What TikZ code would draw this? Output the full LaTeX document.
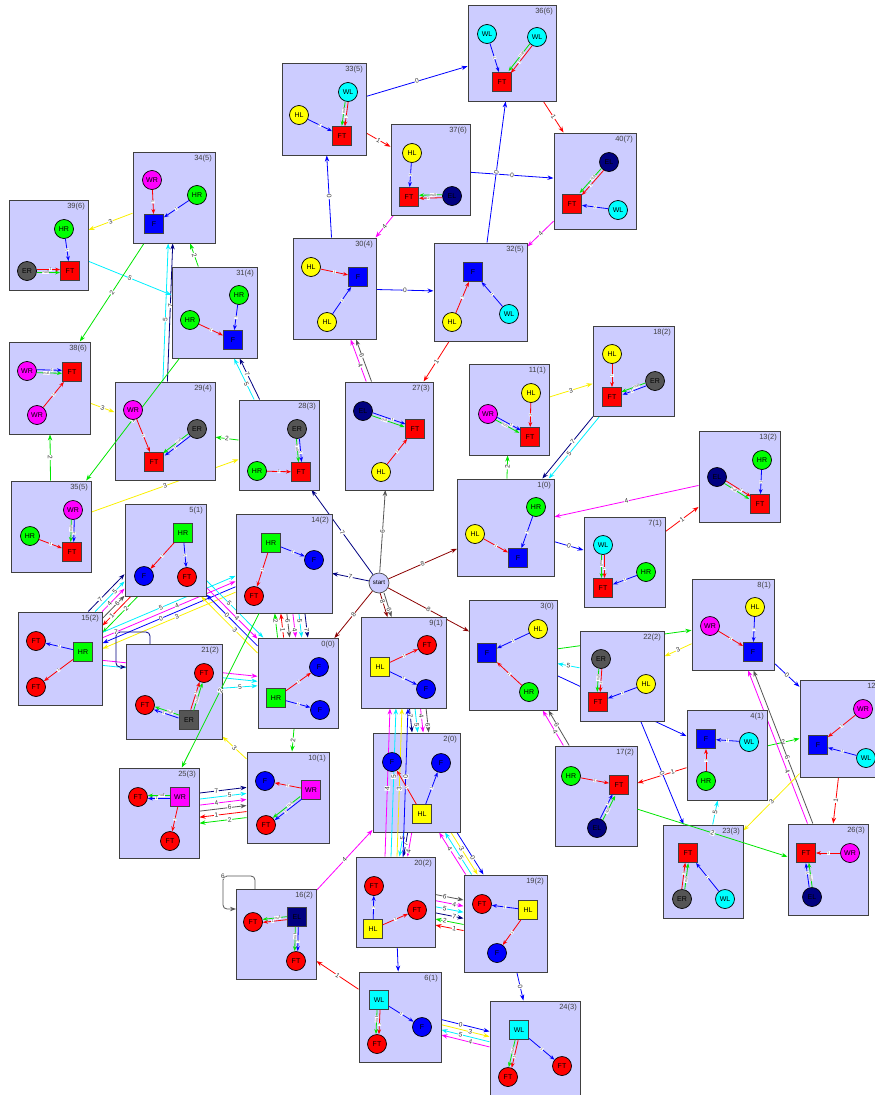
\documentclass[tikz,border=0pt]{standalone}
\usepackage{fontspec}
\setmainfont{Liberation Sans}
\usetikzlibrary{arrows.meta,calc}
\pgfdeclarelayer{bg}
\pgfsetlayers{bg,main}
\definecolor{lav}{RGB}{204,204,255}
\definecolor{c0}{RGB}{0,0,255}
\definecolor{c1}{RGB}{255,0,0}
\definecolor{c2}{RGB}{0,230,0}
\definecolor{c3}{RGB}{250,240,0}
\definecolor{c4}{RGB}{255,0,255}
\definecolor{c5}{RGB}{0,240,255}
\definecolor{c6}{RGB}{85,85,85}
\definecolor{c7}{RGB}{0,0,128}
\definecolor{c8}{RGB}{139,0,0}
\definecolor{nred}{RGB}{255,0,0}
\definecolor{nblue}{RGB}{0,0,255}
\definecolor{nyel}{RGB}{255,255,0}
\definecolor{ngreen}{RGB}{0,255,0}
\definecolor{ncyan}{RGB}{0,255,255}
\definecolor{nmag}{RGB}{255,0,255}
\definecolor{ngray}{RGB}{85,85,85}
\definecolor{nnavy}{RGB}{0,0,128}
\newcommand\ilA{1}
\newcommand\ilG{null}
\tikzset{lpos/.code={\def\BLpos{#1}}}
% box: name x1 y1 x2 y2 title  (pixel coordinates, y downwards)
\newcommand\bx[6]{%
  \edef\BXx{\fpeval{(#2+#4)/2}}\edef\BXy{\fpeval{(#3+#5)/2}}%
  \node[box, minimum width=\fpeval{#4-#2}pt, minimum height=\fpeval{#5-#3}pt] (#1) at (\BXx,\BXy) {};
  \node[ttl] (#1t) at ([shift={(-2.5,2.5)}]#1.north east) {#6};
  \expandafter\xdef\csname cx@#1\endcsname{\BXx}%
  \expandafter\xdef\csname cy@#1\endcsname{\BXy}%
  \expandafter\xdef\csname hw@#1\endcsname{\fpeval{(#4-#2)/2+0.5}}%
  \expandafter\xdef\csname hh@#1\endcsname{\fpeval{(#5-#3)/2+0.5}}%
}
% connector between boxes with a parallel offset
\newcommand\bline[5]{%
  \edef\BAx{\csname cx@#1\endcsname}\edef\BAy{\csname cy@#1\endcsname}%
  \edef\BAw{\csname hw@#1\endcsname}\edef\BAh{\csname hh@#1\endcsname}%
  \edef\BBx{\csname cx@#2\endcsname}\edef\BBy{\csname cy@#2\endcsname}%
  \edef\BBw{\csname hw@#2\endcsname}\edef\BBh{\csname hh@#2\endcsname}%
  \edef\BLdx{\fpeval{\BBx-(\BAx)}}\edef\BLdy{\fpeval{\BBy-(\BAy)}}%
  \edef\BLl{\fpeval{sqrt((\BLdx)^2+(\BLdy)^2)}}%
  \edef\BLux{\fpeval{(\BLdx)/\BLl+1e-7}}\edef\BLuy{\fpeval{(\BLdy)/\BLl+1e-7}}%
  \edef\BLox{\fpeval{-(#3)*(\BLuy)}}\edef\BLoy{\fpeval{(#3)*(\BLux)}}%
  \edef\BLta{\fpeval{min((((\BLux)>0?\BAw:-\BAw)-(\BLox))/(\BLux),(((\BLuy)>0?\BAh:-\BAh)-(\BLoy))/(\BLuy))}}%
  \edef\BLtb{\fpeval{min((((\BLux)>0?\BBw:-\BBw)+(\BLox))/(\BLux),(((\BLuy)>0?\BBh:-\BBh)+(\BLoy))/(\BLuy))}}%
  \edef\BLsx{\fpeval{round(\BLox+(\BLta)*(\BLux),2)}}\edef\BLsy{\fpeval{round(\BLoy+(\BLta)*(\BLuy),2)}}%
  \edef\BLex{\fpeval{round(\BLox-(\BLtb)*(\BLux),2)}}\edef\BLey{\fpeval{round(\BLoy-(\BLtb)*(\BLuy),2)}}%
  \def\BLlab{#5}\def\BLpos{0.5}%
  \ifx\BLlab\empty
    \draw[#4] ([shift={(\BLsx,\BLsy)}]#1.center) -- ([shift={(\BLex,\BLey)}]#2.center);
  \else
    \draw[#4] ([shift={(\BLsx,\BLsy)}]#1.center) -- node[elab,pos=\BLpos]{#5} ([shift={(\BLex,\BLey)}]#2.center);
  \fi
}
\newcommand\nd[4]{\node[#1,n#4] (#2) at (#3) {#4};}
\newcommand\ia[3]{\draw[iarr,#3] (#1) -- node[ilab]{\ilA} (#2);}
\newcommand\ip[3]{%
  \path let \p1=(#1),\p2=(#2) in \pgfextra{\pgfmathsetmacro\IPa{atan2(\y2-\y1,\x2-\x1)}\global\let\IPang\IPa};
  \draw[iarr,#3,transform canvas={shift={(\IPang+90:1.5pt)}}] (#1) -- node[ilab,pos=0.6]{\ilA} (#2);
  \draw[iarr,c2,transform canvas={shift={(\IPang-90:1.5pt)}}] (#1) -- node[ilab,pos=0.38]{\ilG} (#2);}
\begin{document}
\begin{tikzpicture}[x=1pt,y=-1pt,
  box/.style={draw=black!75, line width=1pt, fill=lav, inner sep=0pt, outer sep=0pt},
  ttl/.style={anchor=north east, inner sep=0.5pt, font=\fontsize{7.5}{8}\selectfont, text=black!75},
  cir/.style={circle, draw=black, line width=0.7pt, minimum size=19pt, inner sep=0pt, font=\fontsize{7}{7}\selectfont},
  sq/.style={rectangle, draw=black!75, line width=0.9pt, minimum size=19pt, inner sep=0pt, font=\fontsize{7}{7}\selectfont},
  nFT/.style={fill=nred}, nF/.style={fill=nblue}, nHL/.style={fill=nyel}, nHR/.style={fill=ngreen},
  nWL/.style={fill=ncyan}, nWR/.style={fill=nmag}, nER/.style={fill=ngray}, nEL/.style={fill=nnavy},
  eg/.style={line width=0.8pt, -{Stealth[length=6pt,width=4.4pt]}},
  rev/.style={{Stealth[length=6pt,width=4.4pt]}-},
  iarr/.style={line width=0.8pt, -{Stealth[length=5pt,width=3.8pt]}},
  elab0/.style={fill=white, inner sep=0.5pt, font=\fontsize{6.5}{6.5}\selectfont, text=black!80},
  elab/.style={elab0, sloped},
  ilab/.style={fill=white, inner sep=0.4pt, font=\fontsize{3.8}{3.8}\selectfont, text=black!70, sloped},
  startn/.style={circle, draw=black!70, line width=0.7pt, fill=lav, minimum size=20pt, inner sep=0pt, font=\fontsize{6.2}{6.5}\selectfont}]
\useasboundingbox (0,0) rectangle (875,1095);
\clip (0,0) rectangle (875,1095);
% ---------------- boxes ----------------
\bx{b36}{468}{5}{556}{101}{36(6)}
\bx{b33}{282}{63}{366}{155}{33(5)}
\bx{b37}{391}{124}{470}{215}{37(6)}
\bx{b40}{554}{133}{636}{229}{40(7)}
\bx{b34}{133}{152}{215}{243}{34(5)}
\bx{b39}{9}{200}{88}{290}{39(6)}
\bx{b31}{172}{267}{257}{358}{31(4)}
\bx{b30}{293}{238}{376}{339}{30(4)}
\bx{b32}{434}{243}{527}{341}{32(5)}
\bx{b38}{9}{342}{90}{434}{38(6)}
\bx{b29}{115}{382}{215}{480}{29(4)}
\bx{b28}{239}{400}{319}{490}{28(3)}
\bx{b27}{345}{382}{433}{490}{27(3)}
\bx{b11}{469}{364}{549}{455}{11(1)}
\bx{b18}{593}{326}{674}{416}{18(2)}
\bx{b13}{699}{431}{780}{522}{13(2)}
\bx{b35}{11}{481}{91}{572}{35(5)}
\bx{b5}{125}{504}{206}{596}{5(1)}
\bx{b14}{236}{514}{332}{613}{14(2)}
\bx{b1}{457}{479}{554}{576}{1(0)}
\bx{b7}{584}{517}{665}{607}{7(1)}
\bx{b15}{18}{612}{102}{705}{15(2)}
\bx{b21}{126}{644}{222}{739}{21(2)}
\bx{b0}{258}{638}{338}{728}{0(0)}
\bx{b9}{361}{617}{446}{708}{9(1)}
\bx{b3}{469}{600}{557}{710}{3(0)}
\bx{b22}{580}{631}{664}{721}{22(2)}
\bx{b8}{692}{579}{774}{670}{8(1)}
\bx{b12}{800}{680}{888}{777}{12(2)}
\bx{b4}{687}{710}{767}{800}{4(1)}
\bx{b17}{555}{746}{637}{846}{17(2)}
\bx{b23}{663}{825}{743}{918}{23(3)}
\bx{b26}{788}{824}{868}{915}{26(3)}
\bx{b10}{247}{752}{329}{843}{10(1)}
\bx{b25}{119}{768}{199}{858}{25(3)}
\bx{b2}{373}{733}{460}{832}{2(0)}
\bx{b20}{356}{857}{435}{947}{20(2)}
\bx{b19}{464}{875}{547}{972}{19(2)}
\bx{b16}{236}{889}{316}{979}{16(2)}
\bx{b6}{359}{972}{441}{1062}{6(1)}
\bx{b24}{490}{1001}{580}{1100}{24(3)}
\node[startn] (st) at (379,583) {start};
% ---------------- connectors behind boxes ----------------
\begin{pgfonlayer}{bg}
\draw[eg,c7] (st) -- node[elab]{7} (b14);
\draw[eg,c7] (st) -- node[elab]{7} (b28);
\draw[eg,c6] (st) -- node[elab]{6} (b27);
\draw[eg,c8] (st) -- node[elab]{8} (b1);
\draw[eg,c8] (st) -- node[elab]{8} (b3);
\draw[eg,c8] (st) -- node[elab]{8} (b0);
\draw[eg,c8,transform canvas={xshift=-2pt}] (st) -- node[elab,pos=0.35]{8} (b9);
\draw[eg,c6,transform canvas={xshift=2pt}] (st) -- node[elab,pos=0.68]{6} (b9);
% top
\bline{b33}{b36}{0}{eg,c0}{0}
\bline{b33}{b37}{0}{eg,c1}{1}
\bline{b30}{b33}{0}{eg,c0}{0}
\bline{b37}{b40}{0}{eg,c0}{0}
\bline{b32}{b36}{0}{eg,c0}{0}
\bline{b36}{b40}{0}{eg,c1}{1}
\bline{b37}{b30}{0}{eg,c4}{4}
\bline{b40}{b32}{0}{eg,c4}{4}
\bline{b30}{b32}{0}{eg,c0}{0}
\bline{b32}{b27}{0}{eg,c1}{1}
\bline{b27}{b30}{-2.5}{eg,c4,lpos=0.38}{4}
\bline{b27}{b30}{2.5}{eg,c6,lpos=0.62}{6}
\bline{b11}{b18}{0}{eg,c3}{3}
\bline{b18}{b1}{2.5}{eg,c7,lpos=0.4}{7}
\bline{b18}{b1}{-2.5}{eg,c5,lpos=0.6}{5}
\bline{b1}{b11}{0}{eg,c2}{2}
\bline{b13}{b1}{0}{eg,c4}{4}
\bline{b7}{b13}{0}{eg,c1}{1}
\bline{b1}{b7}{0}{eg,c0}{0}
% left
\bline{b34}{b39}{0}{eg,c3}{3}
\bline{b31}{b34}{0}{eg,c2}{2}
\bline{b29}{b34}{-4}{eg,c5,lpos=0.45}{5}
\bline{b29}{b34}{0.5}{eg,c7,lpos=0.55}{7}
\bline{b39}{b31}{0}{eg,c5}{5}
\bline{b34}{b38}{0}{eg,c2}{2}
\bline{b38}{b29}{0}{eg,c3}{3}
\bline{b35}{b38}{0}{eg,c2}{2}
\bline{b28}{b29}{0}{eg,c2}{2}
\bline{b28}{b31}{-2.5}{eg,c5,lpos=0.38}{5}
\bline{b28}{b31}{2.5}{eg,c7,lpos=0.62}{7}
\bline{b35}{b28}{0}{eg,c3}{3}
% lower left
\bline{b15}{b5}{-12.5}{eg,c7,lpos=0.33}{7}
\bline{b15}{b5}{-7.5}{eg,c5,lpos=0.67}{5}
\bline{b15}{b5}{-2.5}{eg,c4,lpos=0.33}{4}
\bline{b15}{b5}{2.5}{eg,c6,lpos=0.67}{6}
\bline{b15}{b5}{7.5}{eg,c1,rev,lpos=0.33}{1}
\bline{b15}{b5}{12.5}{eg,c2,rev,lpos=0.67}{2}
\bline{b15}{b14}{-7.5}{eg,c5,lpos=0.44}{5}
\bline{b15}{b14}{-2.5}{eg,c4,lpos=0.56}{4}
\bline{b15}{b14}{2.5}{eg,c0,rev,lpos=0.44}{0}
\bline{b15}{b14}{7.5}{eg,c3,rev,lpos=0.56}{3}
\bline{b14}{b0}{15}{eg,c2,rev,lpos=0.33}{2}
\bline{b14}{b0}{9}{eg,c1,rev,lpos=0.67}{1}
\bline{b14}{b0}{3}{eg,c6,lpos=0.33}{6}
\bline{b14}{b0}{-3}{eg,c4,lpos=0.67}{4}
\bline{b14}{b0}{-9}{eg,c5,lpos=0.33}{5}
\bline{b14}{b0}{-15}{eg,c7,lpos=0.67}{7}
\bline{b5}{b0}{-7.5}{eg,c5,lpos=0.4}{5}
\bline{b5}{b0}{-2.5}{eg,c4,lpos=0.6}{4}
\bline{b5}{b0}{2.5}{eg,c0,rev,lpos=0.4}{0}
\bline{b5}{b0}{7.5}{eg,c3,rev,lpos=0.6}{3}
\bline{b15}{b0}{-2.5}{eg,c4}{}
\bline{b15}{b0}{2.5}{eg,c5}{}
\bline{b21}{b0}{0}{eg,c5}{5}
\draw[eg,c7,rounded corners=4pt] ([shift={(24,0)}]b21.north west) -- ++(0,-12) -- ++(-34,0) node[elab0]{7} -- ++(0,35) -- ([shift={(0,23)}]b21.north west);
\bline{b10}{b21}{0}{eg,c3}{3}
\bline{b0}{b10}{0}{eg,c2}{2}
\bline{b25}{b10}{-15}{eg,c7,lpos=0.36}{7}
\bline{b25}{b10}{-9}{eg,c5,lpos=0.64}{5}
\bline{b25}{b10}{-3}{eg,c4,lpos=0.36}{4}
\bline{b25}{b10}{3}{eg,c6,lpos=0.64}{6}
\bline{b25}{b10}{9}{eg,c1,rev,lpos=0.36}{1}
\bline{b25}{b10}{15}{eg,c2,rev,lpos=0.64}{2}
% centre
\bline{b9}{b2}{-1}{eg,c7,lpos=0.33}{7}
\bline{b9}{b2}{-6.5}{eg,c5,lpos=0.67}{5}
\bline{b9}{b2}{-12}{eg,c4,lpos=0.33}{4}
\bline{b9}{b2}{-17.5}{eg,c6,lpos=0.67}{6}
\bline{b2}{b20}{4}{eg,c5,lpos=0.25}{5}
\bline{b2}{b20}{0}{eg,c7,lpos=0.5}{7}
\bline{b2}{b20}{-4}{eg,c4,lpos=0.78}{4}
\bline{b2}{b19}{7.5}{eg,c4,rev,lpos=0.4}{4}
\bline{b2}{b19}{2.5}{eg,c5,rev,lpos=0.6}{5}
\bline{b2}{b19}{-2.5}{eg,c3,lpos=0.4}{3}
\bline{b2}{b19}{-7.5}{eg,c0,lpos=0.6}{0}
\bline{b20}{b19}{-15}{eg,c6,lpos=0.33}{6}
\bline{b20}{b19}{-9}{eg,c4,lpos=0.67}{4}
\bline{b20}{b19}{-3}{eg,c5,lpos=0.33}{5}
\bline{b20}{b19}{3}{eg,c7,lpos=0.67}{7}
\bline{b20}{b19}{9}{eg,c2,rev,lpos=0.33}{2}
\bline{b20}{b19}{15}{eg,c1,rev,lpos=0.67}{1}
\bline{b20}{b6}{0}{eg,c0}{}
\bline{b6}{b16}{0}{eg,c1}{1}
\bline{b16}{b2}{0}{eg,c4}{4}
\draw[eg,c6,rounded corners=4pt] ([shift={(19,0)}]b16.north west) -- ++(0,-13) -- ++(-32,0) node[elab0]{6} -- ++(0,33) -- ([shift={(0,20)}]b16.north west);
\bline{b19}{b24}{0}{eg,c0}{0}
\bline{b6}{b24}{-7.5}{eg,c0,lpos=0.4}{0}
\bline{b6}{b24}{-2.5}{eg,c3,lpos=0.6}{3}
\bline{b6}{b24}{2.5}{eg,c5,rev,lpos=0.4}{5}
\bline{b6}{b24}{7.5}{eg,c4,rev,lpos=0.6}{4}
% right
\bline{b3}{b8}{0}{eg,c2}{}
\bline{b22}{b3}{0}{eg,c5}{5}
\bline{b3}{b4}{0}{eg,c0}{}
\bline{b8}{b22}{0}{eg,c3}{3}
\bline{b8}{b12}{0}{eg,c0}{0}
\bline{b4}{b12}{0}{eg,c2}{2}
\bline{b26}{b8}{-2.5}{eg,c4,lpos=0.34}{4}
\bline{b26}{b8}{2.5}{eg,c6,lpos=0.43}{6}
\bline{b12}{b26}{0}{eg,c1}{1}
\bline{b4}{b17}{0}{eg,c1,lpos=0.28}{1}
\bline{b17}{b3}{-2.5}{eg,c4,lpos=0.4}{4}
\bline{b17}{b3}{2.5}{eg,c6,lpos=0.6}{6}
\bline{b23}{b4}{0}{eg,c5}{5}
\bline{b12}{b23}{0}{eg,c3}{3}
\bline{b22}{b23}{0}{eg,c0}{0}
\end{pgfonlayer}
% ---------------- connectors drawn over boxes ----------------
\bline{b31}{b35}{0}{eg,c2}{2}
\bline{b14}{b25}{0}{eg,c2}{2}
\bline{b17}{b26}{0}{eg,c2}{2}
\bline{b20}{b9}{-12}{eg,c4,lpos=0.46}{4}
\bline{b20}{b9}{-6}{eg,c5,lpos=0.54}{5}
\bline{b20}{b9}{0}{eg,c3,lpos=0.46}{3}
\bline{b20}{b9}{6}{eg,c0,lpos=0.54}{0}
% ---------------- inner nodes ----------------
\nd{cir}{b36a}{487,34}{WL}\nd{cir}{b36b}{537,37}{WL}\nd{sq}{b36c}{502,82}{FT}
\ia{b36a}{b36c}{c0}\ip{b36b}{b36c}{c1}
\nd{cir}{b33a}{299,115}{HL}\nd{cir}{b33b}{348,92}{WL}\nd{sq}{b33c}{342,136}{FT}
\ia{b33a}{b33c}{c0}\ip{b33b}{b33c}{c1}
\nd{cir}{b37a}{412,153}{HL}\nd{cir}{b37b}{452,196}{EL}\nd{sq}{b37c}{409,197}{FT}
\ia{b37a}{b37c}{c0}\ip{b37b}{b37c}{c1}
\nd{cir}{b40a}{609,162}{EL}\nd{cir}{b40b}{618,210}{WL}\nd{sq}{b40c}{572,204}{FT}
\ip{b40a}{b40c}{c1}\ia{b40b}{b40c}{c0}
\nd{cir}{b34a}{152,180}{WR}\nd{cir}{b34b}{197,195}{HR}\nd{sq}{b34c}{154,224}{F}
\ia{b34a}{b34c}{c1}\ia{b34b}{b34c}{c0}
\nd{cir}{b39a}{64,229}{HR}\nd{cir}{b39b}{27,271}{ER}\nd{sq}{b39c}{70,271}{FT}
\ia{b39a}{b39c}{c0}\ip{b39b}{b39c}{c1}
\nd{cir}{b31a}{239,295}{HR}\nd{cir}{b31b}{190,320}{HR}\nd{sq}{b31c}{233,340}{F}
\ia{b31a}{b31c}{c0}\ia{b31b}{b31c}{c1}
\nd{cir}{b30a}{311,267}{HL}\nd{cir}{b30b}{327,322}{HL}\nd{sq}{b30c}{358,277}{F}
\ia{b30a}{b30c}{c1}\ia{b30b}{b30c}{c0}
\nd{sq}{b32a}{473,272}{F}\nd{cir}{b32b}{452,322}{HL}\nd{cir}{b32c}{509,314}{WL}
\ia{b32b}{b32a}{c1}\ia{b32c}{b32a}{c0}
\nd{cir}{b38a}{27,371}{WR}\nd{sq}{b38b}{72,372}{FT}\nd{cir}{b38c}{37,415}{WR}
\ip{b38a}{b38b}{c0}\ia{b38c}{b38b}{c1}
\nd{cir}{b29a}{133,410}{WR}\nd{cir}{b29b}{197,429}{ER}\nd{sq}{b29c}{154,462}{FT}
\ia{b29a}{b29c}{c1}\ip{b29b}{b29c}{c0}
\nd{cir}{b28a}{297,429}{ER}\nd{sq}{b28b}{301,472}{FT}\nd{cir}{b28c}{257,471}{HR}
\ip{b28a}{b28b}{c0}\ia{b28c}{b28b}{c1}
\nd{cir}{b35a}{73,510}{WR}\nd{cir}{b35b}{30,536}{HR}\nd{sq}{b35c}{72,552}{FT}
\ip{b35a}{b35c}{c0}\ia{b35b}{b35c}{c1}
\nd{cir}{b27a}{363,411}{EL}\nd{sq}{b27b}{415,429}{FT}\nd{cir}{b27c}{381,472}{HL}
\ip{b27a}{b27b}{c0}\ia{b27c}{b27b}{c1}
\nd{cir}{b11a}{531,393}{HL}\nd{cir}{b11b}{488,414}{WR}\nd{sq}{b11c}{530,437}{FT}
\ia{b11a}{b11c}{c1}\ip{b11b}{b11c}{c0}
\nd{cir}{b18a}{612,354}{HL}\nd{cir}{b18b}{655,381}{ER}\nd{sq}{b18c}{612,397}{FT}
\ia{b18a}{b18c}{c1}\ip{b18b}{b18c}{c0}
\nd{cir}{b13a}{762,460}{HR}\nd{cir}{b13b}{717,477}{EL}\nd{sq}{b13c}{760,504}{FT}
\ia{b13a}{b13c}{c0}\ip{b13b}{b13c}{c1}
\nd{cir}{b1a}{536,507}{HR}\nd{cir}{b1b}{475,534}{HL}\nd{sq}{b1c}{518,558}{F}
\ia{b1a}{b1c}{c0}\ia{b1b}{b1c}{c1}
\nd{cir}{b7a}{603,545}{WL}\nd{cir}{b7b}{646,572}{HR}\nd{sq}{b7c}{603,588}{FT}
\ip{b7a}{b7c}{c1}\ia{b7b}{b7c}{c0}
\nd{sq}{b5a}{183,533}{HR}\nd{cir}{b5b}{144,576}{F}\nd{cir}{b5c}{187,577}{FT}
\ia{b5a}{b5b}{c1}\ia{b5a}{b5c}{c0}
\nd{sq}{b14a}{271,543}{HR}\nd{cir}{b14b}{314,560}{F}\nd{cir}{b14c}{254,596}{FT}
\ia{b14a}{b14b}{c0}\ia{b14a}{b14c}{c1}
\nd{cir}{b15a}{36,641}{FT}\nd{sq}{b15b}{83,652}{HR}\nd{cir}{b15c}{36,687}{FT}
\ia{b15b}{b15a}{c0}\ia{b15b}{b15c}{c1}
\nd{cir}{b21a}{204,673}{FT}\nd{cir}{b21b}{145,705}{FT}\nd{sq}{b21c}{189,720}{ER}
\ip{b21c}{b21a}{c1}\ip{b21c}{b21b}{c0}
\nd{cir}{b0a}{319,667}{F}\nd{cir}{b0b}{320,710}{F}\nd{sq}{b0c}{276,698}{HR}
\ia{b0c}{b0a}{c1}\ia{b0c}{b0b}{c0}
\nd{sq}{b9a}{380,667}{HL}\nd{cir}{b9b}{427,645}{FT}\nd{cir}{b9c}{426,689}{F}
\ia{b9a}{b9b}{c1}\ia{b9a}{b9c}{c0}
\nd{cir}{b3a}{538,629}{HL}\nd{sq}{b3b}{487,653}{F}\nd{cir}{b3c}{529,692}{HR}
\ia{b3a}{b3b}{c0}\ia{b3c}{b3b}{c1}
\nd{cir}{b22a}{601,659}{ER}\nd{cir}{b22b}{646,684}{HL}\nd{sq}{b22c}{598,702}{FT}
\ip{b22a}{b22c}{c1}\ia{b22b}{b22c}{c0}
\nd{cir}{b8a}{755,607}{HL}\nd{cir}{b8b}{710,626}{WR}\nd{sq}{b8c}{753,652}{F}
\ia{b8a}{b8c}{c0}\ia{b8b}{b8c}{c1}
\nd{cir}{b12a}{863,709}{WR}\nd{sq}{b12b}{818,745}{F}\nd{cir}{b12c}{866,758}{WL}
\ia{b12a}{b12b}{c1}\ia{b12c}{b12b}{c0}
\nd{sq}{b4a}{706,739}{F}\nd{cir}{b4b}{749,742}{WL}\nd{cir}{b4c}{706,781}{HR}
\ia{b4b}{b4a}{c0}\ia{b4c}{b4a}{c1}
\nd{cir}{b17a}{571,776}{HR}\nd{sq}{b17b}{619,785}{FT}\nd{cir}{b17c}{597,828}{EL}
\ia{b17a}{b17b}{c1}\ip{b17c}{b17b}{c0}
\nd{sq}{b23a}{688,853}{FT}\nd{cir}{b23b}{682,899}{ER}\nd{cir}{b23c}{725,899}{WL}
\ip{b23b}{b23a}{c1}\ia{b23c}{b23a}{c0}
\nd{sq}{b26a}{806,853}{FT}\nd{cir}{b26b}{850,853}{WR}\nd{cir}{b26c}{812,897}{EL}
\ia{b26b}{b26a}{c1}\ip{b26c}{b26a}{c0}
\nd{cir}{b10a}{265,781}{F}\nd{sq}{b10b}{311,790}{WR}\nd{cir}{b10c}{266,825}{FT}
\ia{b10b}{b10a}{c1}\ip{b10b}{b10c}{c0}
\nd{cir}{b25a}{138,797}{FT}\nd{sq}{b25b}{180,797}{WR}\nd{cir}{b25c}{170,841}{FT}
\ip{b25b}{b25a}{c0}\ia{b25b}{b25c}{c1}
\nd{cir}{b2a}{392,762}{F}\nd{cir}{b2b}{441,763}{F}\nd{sq}{b2c}{422,814}{HL}
\ia{b2c}{b2a}{c1}\ia{b2c}{b2b}{c0}
\nd{cir}{b20a}{374,886}{FT}\nd{cir}{b20b}{417,910}{FT}\nd{sq}{b20c}{373,929}{HL}
\ia{b20c}{b20a}{c0}\ia{b20c}{b20b}{c1}
\nd{cir}{b19a}{482,904}{FT}\nd{sq}{b19b}{528,910}{HL}\nd{cir}{b19c}{497,953}{F}
\ia{b19b}{b19a}{c0}\ia{b19b}{b19c}{c1}
\nd{cir}{b16a}{253,922}{FT}\nd{sq}{b16b}{297,917}{EL}\nd{cir}{b16c}{296,961}{FT}
\ip{b16b}{b16a}{c1}\ip{b16b}{b16c}{c0}
\nd{sq}{b6a}{379,1000}{WL}\nd{cir}{b6b}{422,1027}{F}\nd{cir}{b6c}{377,1044}{FT}
\ia{b6a}{b6b}{c0}\ip{b6a}{b6c}{c1}
\nd{sq}{b24a}{519,1030}{WL}\nd{cir}{b24b}{562,1066}{FT}\nd{cir}{b24c}{508,1077}{FT}
\ia{b24a}{b24b}{c0}\ip{b24a}{b24c}{c1}
\end{tikzpicture}
\end{document}
